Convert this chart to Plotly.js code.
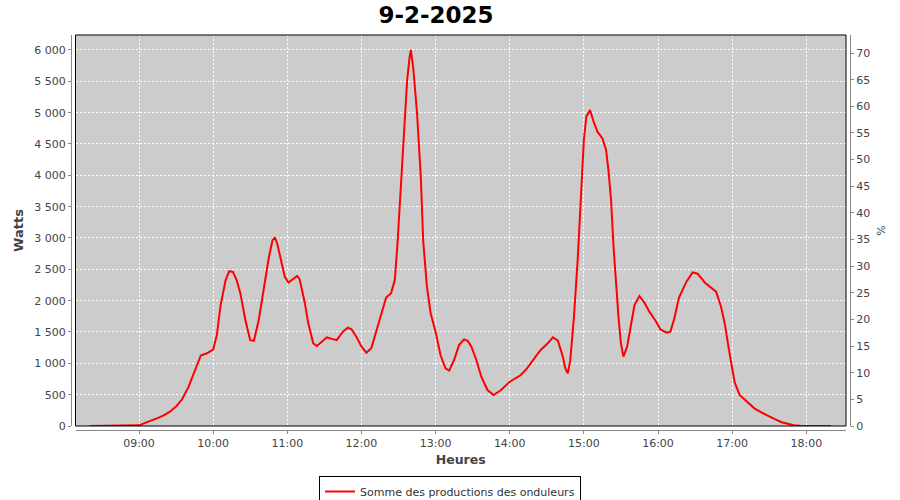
<!DOCTYPE html>
<html>
<head>
<meta charset="utf-8">
<script src="https://cdn.plot.ly/plotly-3.0.1.min.js"></script>
<style>html,body{margin:0;padding:0;background:#fff;}#chart{width:900px;height:500px;}</style>
</head>
<body>
<div id="chart"></div>
<script>
const chartTitle = "9-2-2025";
const day = "2025-02-09";
const seriesName = "Somme des productions des onduleurs";
const times = [
"08:20","08:30","08:40","08:50","08:55","09:00","09:05","09:10","09:15","09:20",
"09:25","09:30","09:35","09:40","09:45","09:50","09:55","10:00","10:03","10:06",
"10:10","10:13","10:16","10:19","10:22","10:26","10:30","10:33","10:37","10:41",
"10:45","10:48","10:50","10:52","10:55","10:58","11:01","11:05","11:08","11:10",
"11:14","11:17","11:21","11:24","11:28","11:32","11:36","11:40","11:45","11:49",
"11:52","11:56","12:00","12:04","12:08","12:12","12:16","12:20","12:24","12:27",
"12:29","12:31","12:34","12:37","12:39","12:40","12:42","12:45","12:48","12:50",
"12:53","12:56","13:00","13:04","13:08","13:11","13:15","13:19","13:23","13:26",
"13:29","13:33","13:37","13:42","13:47","13:53","14:00","14:05","14:09","14:14",
"14:20","14:25","14:30","14:35","14:39","14:43","14:45","14:47","14:49","14:52",
"14:55","14:58","15:00","15:02","15:05","15:08","15:11","15:15","15:18","15:20",
"15:22","15:24","15:26","15:28","15:30","15:32","15:35","15:38","15:41","15:45",
"15:49","15:53","15:58","16:02","16:07","16:10","16:13","16:17","16:23","16:28",
"16:32","16:38","16:43","16:47","16:51","16:54","16:57","17:00","17:02","17:06",
"17:13","17:18","17:24","17:30","17:35","17:40","17:45","17:50","17:55","18:00",
"18:10","18:20"
];
const watts = [
0,0,0,0,0,10,50,85,125,170,
228,310,430,620,880,1125,1160,1220,1450,1920,
2320,2470,2460,2330,2120,1700,1370,1360,1700,2180,
2680,2960,3010,2900,2650,2380,2290,2350,2394,2340,
1984,1638,1319,1276,1340,1415,1390,1372,1505,1569,
1543,1420,1270,1170,1240,1505,1800,2050,2120,2330,
2850,3500,4600,5520,5890,6000,5700,4990,4000,2950,
2223,1798,1505,1133,920,883,1053,1293,1383,1360,
1266,1053,787,574,495,574,707,770,814,920,
1080,1213,1303,1415,1361,1106,920,840,1050,1744,
2650,3900,4564,4936,5043,4850,4696,4590,4404,4060,
3606,2861,2223,1744,1319,1106,1266,1585,1931,2074,
1968,1824,1680,1540,1489,1505,1700,2050,2303,2452,
2430,2287,2207,2143,1904,1638,1266,946,700,495,
372,282,212,150,105,60,30,12,3,0,
0,0
];
const xRange = ["2025-02-09 08:08:37", "2025-02-09 18:32:08"];
const yRange = [0, 6239];
const y2Range = [0, 73.38];

const xs = times.map(t => day + " " + t);
const tickFont = {family: "DejaVu Sans", size: 11, color: "#444"};
const titleFont = {family: "DejaVu Sans", size: 13, color: "#444", weight: "bold"};

const trace = {
  x: xs, y: watts, type: "scatter", mode: "lines", name: seriesName,
  line: {color: "#ff0000", width: 2}, showlegend: true
};

const layout = {
  width: 900, height: 500,
  paper_bgcolor: "#ffffff", plot_bgcolor: "#cccccc",
  margin: {l: 71, r: 50, t: 35, b: 70, pad: 0},
  separators: ", ",
  font: {family: "DejaVu Sans", size: 11, color: "#444"},
  title: {text: chartTitle, x: 436/900, xref: "container", xanchor: "center", y: 1 - 15/500, yref: "container", yanchor: "middle",
          font: {family: "DejaVu Sans", size: 23, color: "#000", weight: "bold"}},
  xaxis: {
    type: "date", range: xRange, domain: [4.5/779, 775/779],
    anchor: "free", position: 0,
    tickformat: "%H:%M", dtick: 3600000, tick0: "2025-02-09 09:00",
    showline: true, linecolor: "#888", linewidth: 1,
    ticks: "outside", ticklen: 3, tickcolor: "#888",
    showgrid: true, gridcolor: "#ffffff", griddash: "2px,2px", gridwidth: 1,
    zeroline: false, tickfont: tickFont,
    title: {text: "Heures", font: {family: "DejaVu Sans", size: 12.5, color: "#444", weight: "bold"}, standoff: 6}
  },
  yaxis: {
    range: yRange, domain: [4/395, 1],
    anchor: "free", position: 0,
    dtick: 500, tick0: 0, separatethousands: true, tickformat: ",d",
    showline: true, linecolor: "#888", linewidth: 1,
    ticks: "outside", ticklen: 3, tickcolor: "#888",
    showgrid: true, gridcolor: "#ffffff", griddash: "2px,2px", gridwidth: 1,
    zeroline: false, tickfont: tickFont,
    title: {text: "Watts", font: titleFont, standoff: 6}
  },
  yaxis2: {
    range: y2Range, overlaying: "y", side: "right",
    anchor: "free", position: 1,
    dtick: 5, tick0: 0,
    showline: true, linecolor: "#888", linewidth: 1,
    ticks: "outside", ticklen: 3, tickcolor: "#888",
    showgrid: false, zeroline: false, tickfont: tickFont,
    title: {text: "%", font: {family: "DejaVu Sans", size: 11, color: "#444"}, standoff: 8}
  },
  shapes: [{
    type: "rect", xref: "x domain", yref: "y domain", x0: 0, x1: 1, y0: 0, y1: 1,
    line: {color: "#000", width: 1}, fillcolor: "rgba(0,0,0,0)", layer: "above"
  }],
  showlegend: true,
  legend: {
    orientation: "h", x: 450/900, xref: "container", xanchor: "center",
    y: 1 - 476/500, yref: "container", yanchor: "top",
    bordercolor: "#000", borderwidth: 1, bgcolor: "#fff",
    font: {family: "DejaVu Sans", size: 11, color: "#333"},
    itemwidth: 30
  }
};

const dummy = {x: [], y: [], yaxis: "y2", type: "scatter", mode: "lines", showlegend: false, hoverinfo: "skip"};

Plotly.newPlot("chart", [trace, dummy], layout, {displayModeBar: false, staticPlot: true});
</script>
</body>
</html>
